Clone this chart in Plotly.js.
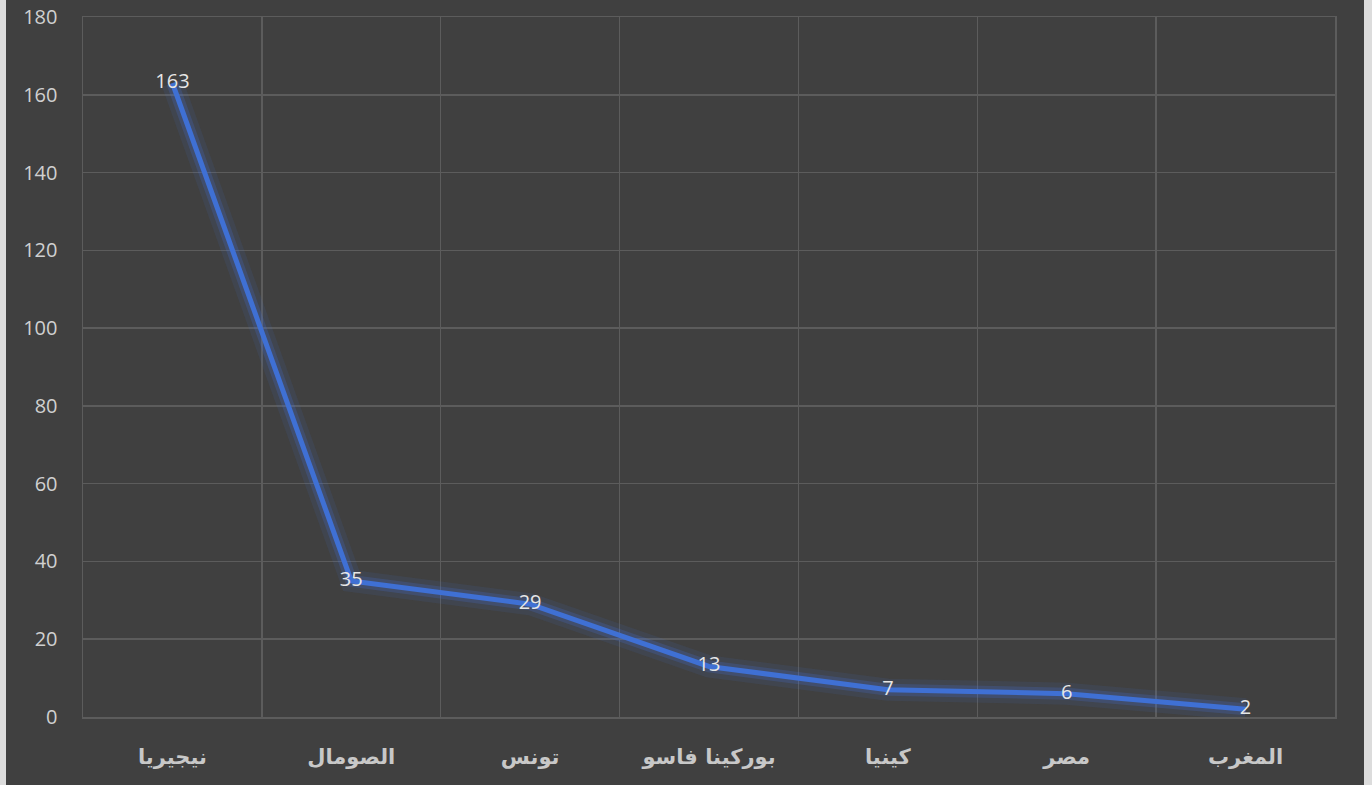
<!DOCTYPE html>
<html>
<head>
<meta charset="utf-8">
<script src="https://cdn.plot.ly/plotly-3.0.1.min.js"></script>
<style>
html,body{margin:0;padding:0;background:#dcdcdc;}
#chart{position:absolute;left:6px;top:0;width:1358px;height:785px;}
</style>
</head>
<body>
<div id="chart"></div>
<script>
const categories = ["نيجيريا", "الصومال", "تونس", "بوركينا فاسو", "كينيا", "مصر", "المغرب"];
const values = [163, 35, 29, 13, 7, 6, 2];
const yTicks = [0, 20, 40, 60, 80, 100, 120, 140, 160, 180];

const glowOuter = {
  x: categories, y: values, type: "scatter", mode: "lines",
  line: {color: "rgba(68,114,220,0.10)", width: 22},
  hoverinfo: "skip", showlegend: false
};
const glowInner = {
  x: categories, y: values, type: "scatter", mode: "lines",
  line: {color: "rgba(68,114,220,0.22)", width: 12},
  hoverinfo: "skip", showlegend: false
};
const main = {
  x: categories, y: values, type: "scatter", mode: "lines+text",
  line: {color: "#3f70d4", width: 5},
  text: values.map(String), textposition: "middle center",
  textfont: {family: "Open Sans, sans-serif", size: 20, color: "#e6e6e6"},
  showlegend: false
};

const layout = {
  paper_bgcolor: "#404040",
  plot_bgcolor: "#404040",
  margin: {l: 77, r: 29, t: 17, b: 68},
  showlegend: false,
  xaxis: {
    type: "category",
    range: [-0.5, 6.5],
    tickson: "boundaries",
    showgrid: true,
    gridcolor: "#5c5c5c",
    gridwidth: 1.5,
    ticks: "",
    zeroline: false,
    showline: true,
    mirror: true,
    linecolor: "#5c5c5c",
    linewidth: 1.5,
    tickfont: {family: "DejaVu Sans, sans-serif", size: 21, color: "#c8c8c8", weight: "bold"},
    ticklabelstandoff: 20
  },
  yaxis: {
    range: [0, 180],
    tickvals: yTicks,
    ticktext: yTicks.map(String),
    showgrid: true,
    gridcolor: "#5c5c5c",
    gridwidth: 1.5,
    zeroline: false,
    showline: true,
    mirror: true,
    linecolor: "#5c5c5c",
    linewidth: 1.5,
    ticks: "",
    tickfont: {family: "Open Sans, sans-serif", size: 20, color: "#d0d0d0"},
    ticklabelstandoff: 20
  }
};

Plotly.newPlot("chart", [glowOuter, glowInner, main], layout, {displayModeBar: false, staticPlot: true});
</script>
</body>
</html>
